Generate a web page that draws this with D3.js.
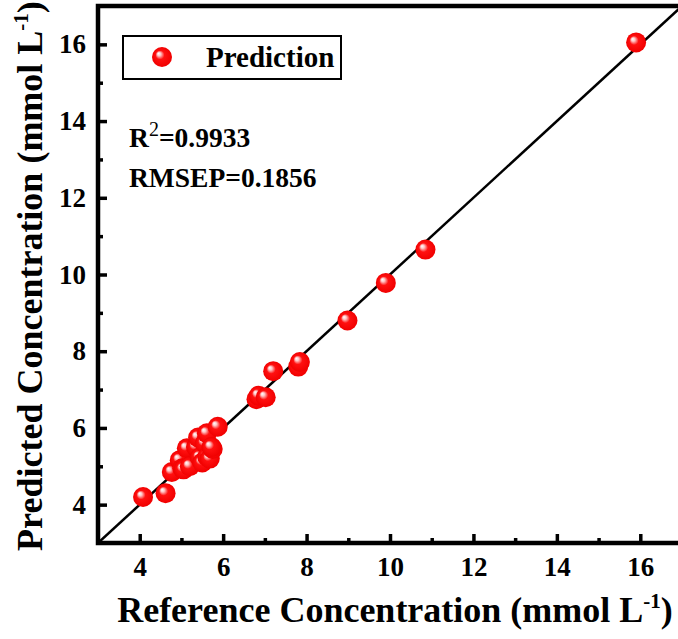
<!DOCTYPE html>
<html><head><meta charset="utf-8">
<script src="https://cdn.jsdelivr.net/npm/d3@7"></script>
<style>body{margin:0;background:#fff}svg{display:block}text{font-family:"Liberation Serif","Times New Roman",Times,"Nimbus Roman","DejaVu Serif",serif !important;font-weight:bold;fill:#000}</style>
</head><body><svg id="c" width="678" height="639"></svg>
<script>
const refValues = [4.08,4.62,4.77,4.96,5.02,5.05,5.13,5.2,5.35,5.4,5.44,5.5,5.56,5.61,5.62,5.68,5.75,5.72,5.87,6.8,6.85,7.02,7.2,7.8,7.84,8.98,9.9,10.85,15.9];
const predValues = [4.2,4.3,4.85,5.16,4.95,4.92,5.47,5.0,5.5,5.75,5.23,5.1,5.6,5.86,5.25,5.2,5.45,5.5,6.03,6.75,6.84,6.8,7.48,7.6,7.72,8.8,9.78,10.65,16.05];
const xTicks = [4,6,8,10,12,14,16];
const yTicks = [4,6,8,10,12,14,16];
const minorTicks = [5,7,9,11,13,15];
const domain = [3,17];
const r2Text = "0.9933", rmsepText = "0.1856";
const legendLabel = "Prediction";

const svg = d3.select("#c");
const x = d3.scaleLinear().domain(domain).range([98,682]);
const y = d3.scaleLinear().domain(domain).range([543,6]);

const defs = svg.append("defs");
const g = defs.append("radialGradient").attr("id","sph").attr("cx","0.5").attr("cy","0.5").attr("r","0.5").attr("fx","0.32").attr("fy","0.32");
g.append("stop").attr("offset","0%").attr("stop-color","#ffffff");
g.append("stop").attr("offset","18%").attr("stop-color","#ffc8c8");
g.append("stop").attr("offset","45%").attr("stop-color","#ff1010");
g.append("stop").attr("offset","100%").attr("stop-color","#f00000");
defs.append("clipPath").attr("id","clip").append("rect").attr("x",98).attr("y",6).attr("width",584).attr("height",537);

svg.append("line").attr("clip-path","url(#clip)")
  .attr("x1",x(domain[0])).attr("y1",y(domain[0])).attr("x2",x(domain[1])).attr("y2",y(domain[1]))
  .attr("stroke","#000").attr("stroke-width",2.5);

svg.append("g").selectAll("circle").data(refValues.map((d,i)=>[d,predValues[i]])).join("circle")
  .attr("cx",d=>x(d[0])).attr("cy",d=>y(d[1])).attr("r",10).attr("fill","url(#sph)");

const xAxis = d3.axisBottom(x).tickValues(xTicks).tickSize(-9).tickPadding(14).tickFormat(d3.format("d"));
const yAxis = d3.axisLeft(y).tickValues(yTicks).tickSize(-9).tickPadding(12).tickFormat(d3.format("d"));
const gx = svg.append("g").attr("transform","translate(0,543)").call(xAxis);
const gy = svg.append("g").attr("transform","translate(98,0)").call(yAxis);
[gx,gy].forEach(a=>{
  a.attr("font-family",null).attr("font-size",null);
  a.select(".domain").remove();
  a.selectAll(".tick line").attr("stroke","#000").attr("stroke-width",3.5);
  a.selectAll(".tick text").style("font-size","27px");
});
gx.selectAll(".tick text").attr("dy","0.71em");
svg.append("g").attr("transform","translate(0,543)").call(d3.axisBottom(x).tickValues(minorTicks).tickSize(-5).tickFormat(""))
  .call(a=>{a.select(".domain").remove();a.selectAll("line").attr("stroke","#000").attr("stroke-width",3.5);});
svg.append("g").attr("transform","translate(98,0)").call(d3.axisLeft(y).tickValues(minorTicks).tickSize(-5).tickFormat(""))
  .call(a=>{a.select(".domain").remove();a.selectAll("line").attr("stroke","#000").attr("stroke-width",3.5);});

svg.append("rect").attr("x",x(domain[0])).attr("y",y(domain[1])).attr("width",x(domain[1])-x(domain[0])).attr("height",y(domain[0])-y(domain[1]))
  .attr("fill","none").attr("stroke","#000").attr("stroke-width",4.5);

svg.append("rect").attr("x",123).attr("y",36).attr("width",218).attr("height",43).attr("fill","#fff").attr("stroke","#000").attr("stroke-width",2);
svg.append("circle").attr("cx",162).attr("cy",57).attr("r",10).attr("fill","url(#sph)");
svg.append("text").attr("x",206).attr("y",67).style("font-size","29px").text(legendLabel);

const t1 = svg.append("text").attr("x",129).attr("y",147).style("font-size","27.5px");
t1.append("tspan").text("R");
t1.append("tspan").attr("dy",-11).style("font-size","20px").style("font-weight","normal").text("2");
t1.append("tspan").attr("dy",11).text("="+r2Text);
svg.append("text").attr("x",129).attr("y",187).style("font-size","27.5px").text("RMSEP="+rmsepText);

const xt = svg.append("text").attr("x",395).attr("y",622).attr("text-anchor","middle").style("font-size","36px");
xt.append("tspan").text("Reference Concentration (mmol L");
xt.append("tspan").attr("dy",-14).style("font-size","21px").text("-1");
xt.append("tspan").attr("dy",14).text(")");
const yt = svg.append("text").attr("transform","translate(42,276) rotate(-90)").attr("text-anchor","middle").style("font-size","36px");
yt.append("tspan").text("Predicted Concentration (mmol L");
yt.append("tspan").attr("dy",-14).style("font-size","21px").text("-1");
yt.append("tspan").attr("dy",14).text(")");
</script></body></html>
